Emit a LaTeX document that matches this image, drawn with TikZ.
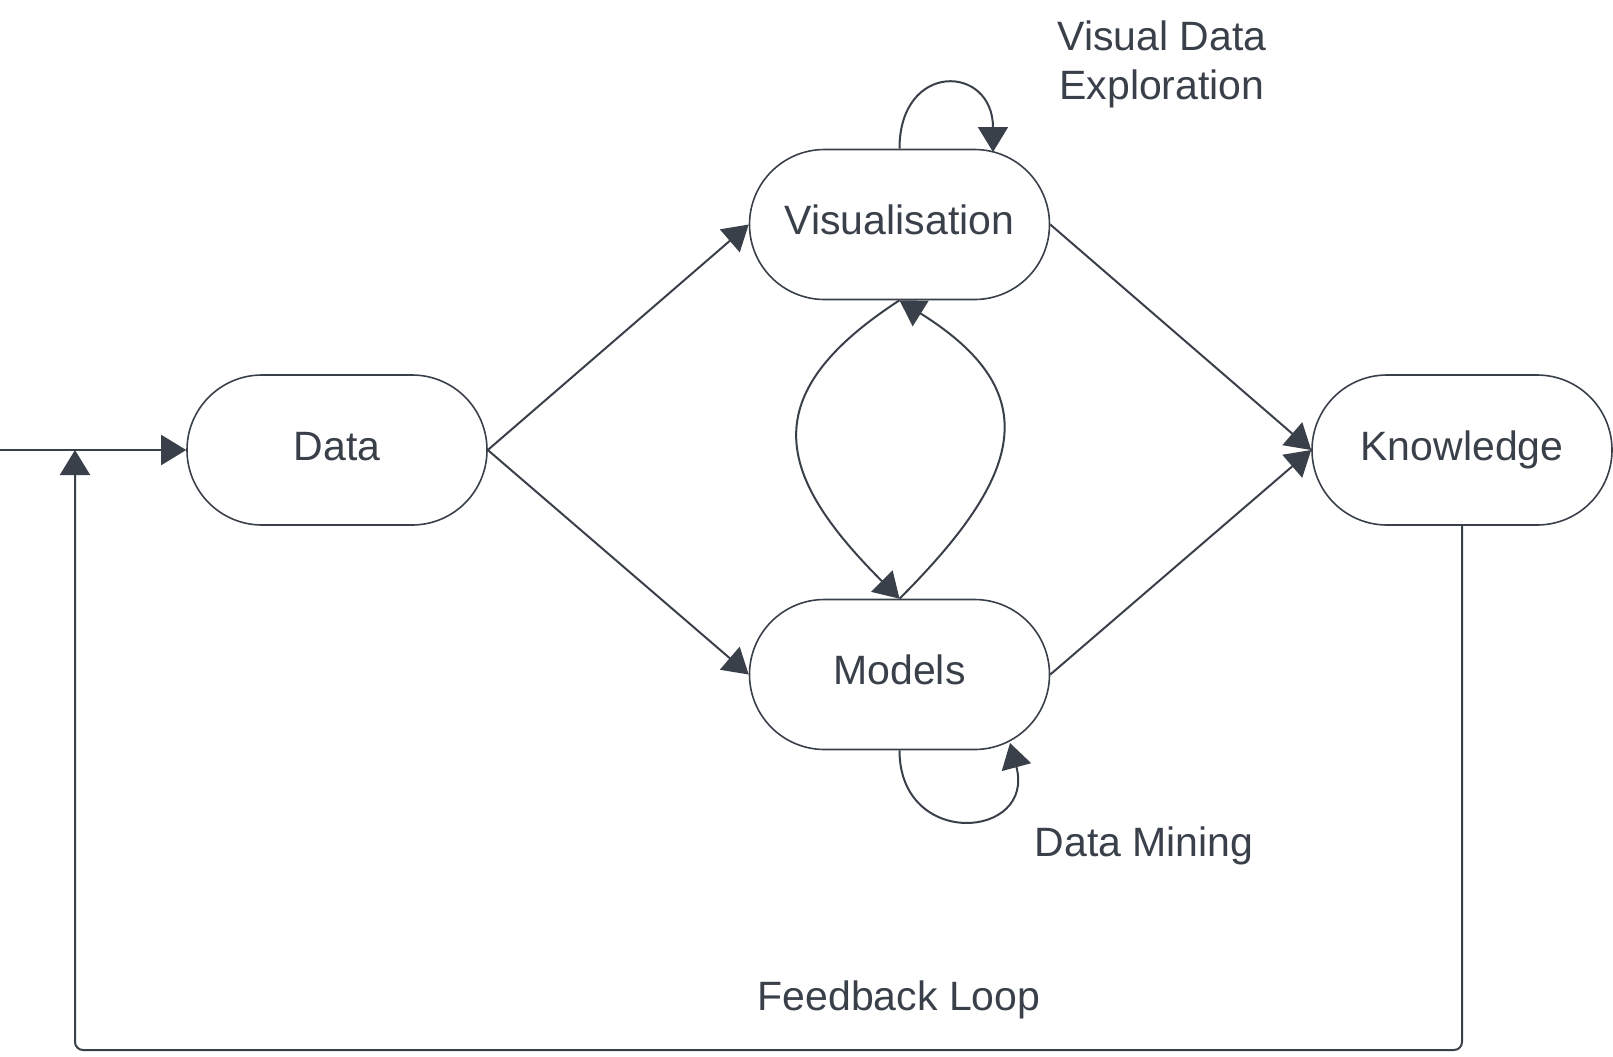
\documentclass[tikz,border=0pt]{standalone}
\usepackage{fontspec}
\setmainfont{Liberation Sans}
\usepackage{xcolor}
\usepackage{tikz}
\usetikzlibrary{
  arrows.meta
}
\definecolor{SlateInk}{RGB}{58, 64, 74}

\tikzset{
    stage/.style={rectangle, rounded corners=37.5pt, draw=SlateInk, line width=0.8pt, fill=white,
        minimum width=150pt, minimum height=75pt, text=SlateInk,
        text height=15pt, text depth=5pt,
        font=\fontsize{20.5}{24.5}\selectfont},
    flow/.style={draw=SlateInk, line width=1pt, -{Triangle[length=12.5pt, width=15pt]}},
    note/.style={text=SlateInk, align=center, font=\fontsize{20.5}{24.5}\selectfont}
}

\begin{document}
\begin{tikzpicture}[x=0.5pt, y=0.5pt]
    \useasboundingbox (0,0) rectangle (1613,-1056);

    % stages
    \node[stage] (data) at (337,-450) {Data};
    \node[stage] (vis) at (899.5,-224.5) {Visualisation};
    \node[stage] (models) at (899.5,-674.5) {Models};
    \node[stage] (know) at (1462,-450) {Knowledge};

    % free ends
    \coordinate (input) at (0,-450);
    \coordinate (fbcorner) at (75,-1050);
    \coordinate (fbend) at (75,-450);
    \coordinate (visloop) at (993,-152);
    \coordinate (modloop) at (1010,-743);

    % labels
    \node[note] (vdelabel) at (1162,-64) {Visual Data\\Exploration};
    \node[note] (dmlabel) at (1144,-846) {Data Mining};
    \node[note] (fblabel) at (899,-1000) {Feedback Loop};

    % connectors
    \draw[flow] (input) -- (data.west);
    \draw[flow] (data.east) -- (vis.west);
    \draw[flow] (data.east) -- (models.west);
    \draw[flow] (vis.east) -- (know.west);
    \draw[flow] (models.east) -- (know.west);
    \draw[flow] (vis.south) to[out=213, in=135, looseness=1.5] (models.north);
    \draw[flow] (models.north) to[out=45, in=-32, looseness=1.5] (vis.south);
    \draw[flow] (vis.north) to[out=90, in=90, looseness=2.4] (visloop);
    \draw[flow] (models.south) to[out=-90, in=-75, looseness=2.3] (modloop);
    \draw[flow, rounded corners=4pt] (know.south) |- (fbcorner) -- (fbend);
\end{tikzpicture}
\end{document}
